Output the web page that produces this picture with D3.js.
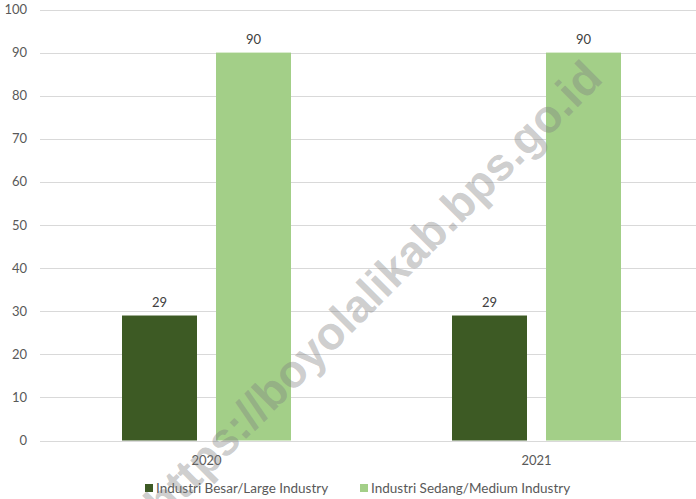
<!DOCTYPE html>
<html><head><meta charset="utf-8">
<script src="https://cdn.jsdelivr.net/npm/d3@7"></script>
<style>html,body{margin:0;padding:0;background:#fff;}svg{display:block;}</style>
</head><body>
<svg id="c" width="696" height="499"></svg>
<script>
const years = ["2020", "2021"];
const seriesNames = ["Industri Besar/Large Industry", "Industri Sedang/Medium Industry"];
const largeValues = [29, 29];
const mediumValues = [90, 90];
const yTicks = [0, 10, 20, 30, 40, 50, 60, 70, 80, 90, 100];
const colors = ["#3d5a24", "#a3cf88"];
const watermark = "https://boyolalikab.bps.go.id";

const svg = d3.select("#c");
const font = "Lato, 'Open Sans', sans-serif";
const textColor = "#595959";

const y = d3.scaleLinear().domain([0, 100]).range([440.5, 9.5]);
const x0 = d3.scaleBand().domain(years).range([41.5, 701.5]).paddingInner(0).paddingOuter(0);
const x1 = d3.scaleBand().domain([0, 1]).range([0, x0.bandwidth()])
  .paddingInner(19 / 94).paddingOuter(80.5 / 94);

// gridlines
svg.append("g").selectAll("line").data(yTicks).join("line")
  .attr("x1", 40).attr("x2", 696)
  .attr("y1", d => Math.round(y(d)) + 0.5).attr("y2", d => Math.round(y(d)) + 0.5)
  .attr("stroke", "#d9d9d9").attr("stroke-width", 1);

// y tick labels
svg.append("g").selectAll("text").data(yTicks).join("text")
  .attr("x", 27).attr("y", d => y(d))
  .attr("dy", "0.35em").attr("text-anchor", "end")
  .attr("font-family", font).attr("font-size", 13).attr("fill", textColor)
  .text(d => d);

const data = years.map((yr, i) => ({ year: yr, vals: [largeValues[i], mediumValues[i]] }));

const groups = svg.append("g").selectAll("g").data(data).join("g")
  .attr("transform", d => `translate(${x0(d.year)},0)`);

groups.selectAll("rect").data(d => d.vals.map((v, k) => ({ k, v }))).join("rect")
  .attr("x", d => x1(d.k)).attr("width", x1.bandwidth())
  .attr("y", d => y(d.v)).attr("height", d => y(0) - y(d.v))
  .attr("fill", d => colors[d.k]);

groups.selectAll("text.val").data(d => d.vals.map((v, k) => ({ k, v }))).join("text")
  .attr("class", "val")
  .attr("x", d => x1(d.k) + x1.bandwidth() / 2)
  .attr("y", d => y(d.v) - 13)
  .attr("dy", "0.35em").attr("text-anchor", "middle")
  .attr("font-family", font).attr("font-size", 13).attr("fill", "#404040")
  .text(d => d.v);

// year labels
svg.append("g").selectAll("text").data(years).join("text")
  .attr("x", d => x0(d) + x0.bandwidth() / 2).attr("y", 460)
  .attr("dy", "0.35em").attr("text-anchor", "middle")
  .attr("font-family", font).attr("font-size", 13).attr("fill", textColor)
  .text(d => d);

// legend
const legendX = [145, 360];
const leg = svg.append("g").selectAll("g").data(seriesNames).join("g")
  .attr("transform", (d, i) => `translate(${legendX[i]},488)`);
leg.append("rect").attr("x", 0).attr("y", -4).attr("width", 8).attr("height", 8)
  .attr("fill", (d, i) => colors[i]);
leg.append("text").attr("x", 11).attr("y", 0).attr("dy", "0.35em")
  .attr("font-family", font).attr("font-size", 13.5).attr("fill", textColor)
  .text(d => d);

// watermark
svg.append("text")
  .attr("transform", "translate(163.6,521.4) rotate(-45)")
  .attr("text-anchor", "start")
  .attr("font-family", "'Liberation Sans', Arial, sans-serif").attr("font-weight", "bold")
  .attr("font-size", 46).attr("fill", "#808080").attr("fill-opacity", 0.4)
  .text(watermark);
</script>
</body></html>
